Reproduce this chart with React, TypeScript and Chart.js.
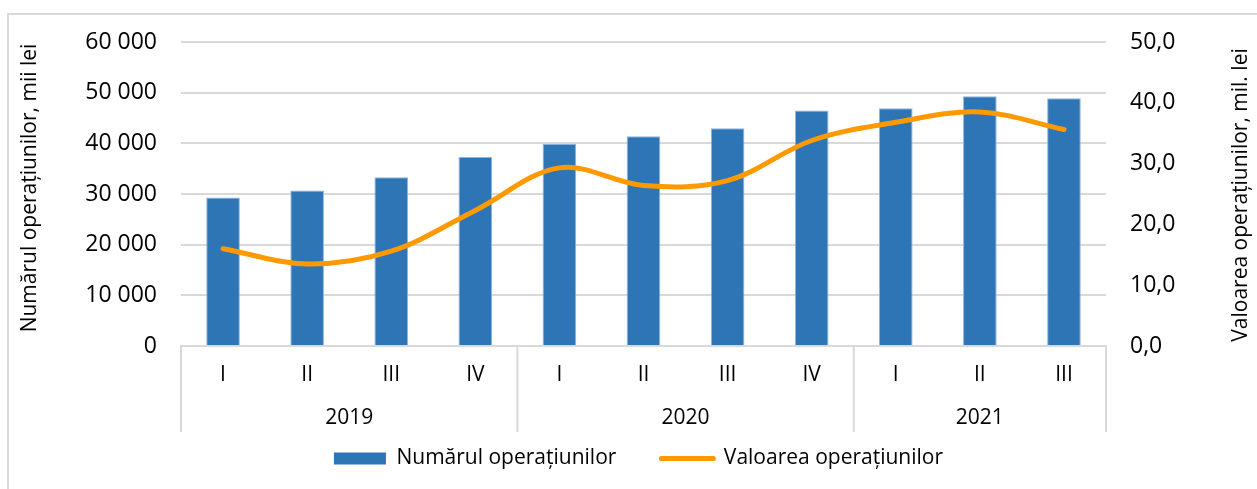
import { useEffect, useRef } from 'react';
import { Chart, registerables } from 'chart.js';

Chart.register(...registerables);

const quarters = ['I', 'II', 'III', 'IV', 'I', 'II', 'III', 'IV', 'I', 'II', 'III'];
const yearGroups = ['2019', '2020', '2021'];
const groupSizes = [4, 4, 3];
const numarulOperatiunilor = [29300, 30700, 33300, 37300, 39900, 41400, 43000, 46500, 46900, 49300, 48900];
const valoareaOperatiunilor = [16.0, 13.5, 15.6, 22.3, 29.3, 26.4, 27.2, 33.8, 36.8, 38.5, 35.6];
const seriesNames = ['Numărul operațiunilor', 'Valoarea operațiunilor'];
const axisTitles = ['Numărul operațiunilor, mii lei', 'Valoarea operațiunilor, mil. lei'];

const FONT = '"Open Sans", "Noto Sans", sans-serif';
const BLUE = '#2E75B6';
const ORANGE = '#FF9900';
const GRID = '#d9d9d9';

const fmtThousands = (v: number) => String(Math.round(v)).replace(/\B(?=(\d{3})+(?!\d))/g, ' ');
const fmtDecimal = (v: number) => v.toFixed(1).replace('.', ',');

const decorPlugin = {
  id: 'decor',
  afterDraw(chart: any) {
    const { ctx, chartArea, scales } = chart;
    const x = scales.x;
    ctx.save();
    const half = (x.getPixelForValue(1) - x.getPixelForValue(0)) / 2;
    const edges: number[] = [x.left];
    let idx = 0;
    groupSizes.forEach((n) => {
      idx += n;
      edges.push(x.getPixelForValue(idx - 1) + half);
    });
    ctx.strokeStyle = GRID;
    ctx.lineWidth = 2;
    edges.forEach((px) => {
      ctx.beginPath();
      ctx.moveTo(px, chartArea.bottom);
      ctx.lineTo(px, chartArea.bottom + 86);
      ctx.stroke();
    });
    ctx.fillStyle = '#000';
    ctx.font = `21px ${FONT}`;
    ctx.textAlign = 'center';
    ctx.textBaseline = 'middle';
    yearGroups.forEach((y, i) => {
      ctx.fillText(y, (edges[i] + edges[i + 1]) / 2, chartArea.bottom + 72);
    });
    // axis titles, both reading bottom-to-top
    ctx.textBaseline = 'alphabetic';
    const midY = (chartArea.top + chartArea.bottom) / 2;
    ctx.save();
    ctx.translate(36, midY - 6);
    ctx.rotate(-Math.PI / 2);
    ctx.fillText(axisTitles[0], 0, 0);
    ctx.restore();
    ctx.save();
    ctx.translate(1247, midY + 1);
    ctx.rotate(-Math.PI / 2);
    ctx.fillText(axisTitles[1], 0, 0);
    ctx.restore();
    ctx.restore();
  },
};

export default function App() {
  const canvasRef = useRef<HTMLCanvasElement | null>(null);

  useEffect(() => {
    if (!canvasRef.current) return;
    const chart = new Chart(canvasRef.current, {
      type: 'bar',
      data: {
        labels: quarters,
        datasets: [
          {
            type: 'line',
            label: seriesNames[1],
            data: valoareaOperatiunilor,
            yAxisID: 'y1',
            borderColor: ORANGE,
            backgroundColor: ORANGE,
            borderWidth: 5,
            borderCapStyle: 'round',
            pointRadius: 0,
            tension: 0.35,
            order: 0,
          } as any,
          {
            type: 'bar',
            label: seriesNames[0],
            data: numarulOperatiunilor,
            yAxisID: 'y',
            backgroundColor: BLUE,
            borderColor: '#8DB4E2',
            borderWidth: { top: 1, left: 1, right: 1, bottom: 0 },
            barPercentage: 0.4,
            categoryPercentage: 1,
            order: 1,
          } as any,
        ],
      },
      options: {
        responsive: false,
        animation: false,
        layout: { padding: { left: 30, right: 10, top: 42, bottom: 10 } },
        plugins: {
          tooltip: { enabled: false },
          legend: {
            position: 'bottom',
            labels: {
              usePointStyle: true,
              pointStyleWidth: 52,
              boxHeight: 12,
              padding: 45,
              color: '#000',
              font: { family: FONT, size: 21 },
              generateLabels: () => [
                {
                  text: seriesNames[0],
                  fillStyle: BLUE,
                  strokeStyle: BLUE,
                  lineWidth: 0,
                  pointStyle: 'rect',
                  datasetIndex: 1,
                  hidden: false,
                },
                {
                  text: seriesNames[1],
                  fillStyle: ORANGE,
                  strokeStyle: ORANGE,
                  lineWidth: 5,
                  lineCap: 'round',
                  pointStyle: 'line',
                  datasetIndex: 0,
                  hidden: false,
                },
              ],
            },
          },
        },
        scales: {
          x: {
            grid: { display: false, drawTicks: false },
            border: { display: true, color: GRID, width: 2 },
            ticks: {
              color: '#000',
              padding: 16,
              font: { family: FONT, size: 21 },
              maxRotation: 0,
              autoSkip: false,
            },
            afterFit: (s: any) => {
              s.height = 57;
            },
          },
          y: {
            position: 'left',
            min: 0,
            max: 60000,
            ticks: {
              stepSize: 10000,
              color: '#000',
              padding: 24,
              font: { family: FONT, size: 23 },
              callback: (v: any) => fmtThousands(Number(v)),
            },
            grid: { color: GRID, lineWidth: 2, drawTicks: false },
            border: { display: false },
            afterFit: (s: any) => {
              s.width = 151;
            },
          },
          y1: {
            position: 'right',
            min: 0,
            max: 50,
            ticks: {
              stepSize: 10,
              color: '#000',
              padding: 24,
              font: { family: FONT, size: 23 },
              callback: (v: any) => fmtDecimal(Number(v)),
            },
            grid: { display: false, drawTicks: false },
            border: { display: false },
            afterFit: (s: any) => {
              s.width = 141;
            },
          },
        },
      },
      plugins: [decorPlugin],
    });
    return () => chart.destroy();
  }, []);

  return (
    <div style={{ position: 'fixed', left: 0, top: 0, width: 1257, height: 489, overflow: 'hidden', background: '#fff' }}>
      <div
        style={{
          position: 'absolute',
          left: 7,
          top: 13,
          width: 1300,
          height: 600,
          border: `2px solid ${GRID}`,
          boxSizing: 'border-box',
        }}
      />
      <canvas ref={canvasRef} width={1257} height={489} style={{ position: 'absolute', left: 0, top: 0 }} />
    </div>
  );
}
